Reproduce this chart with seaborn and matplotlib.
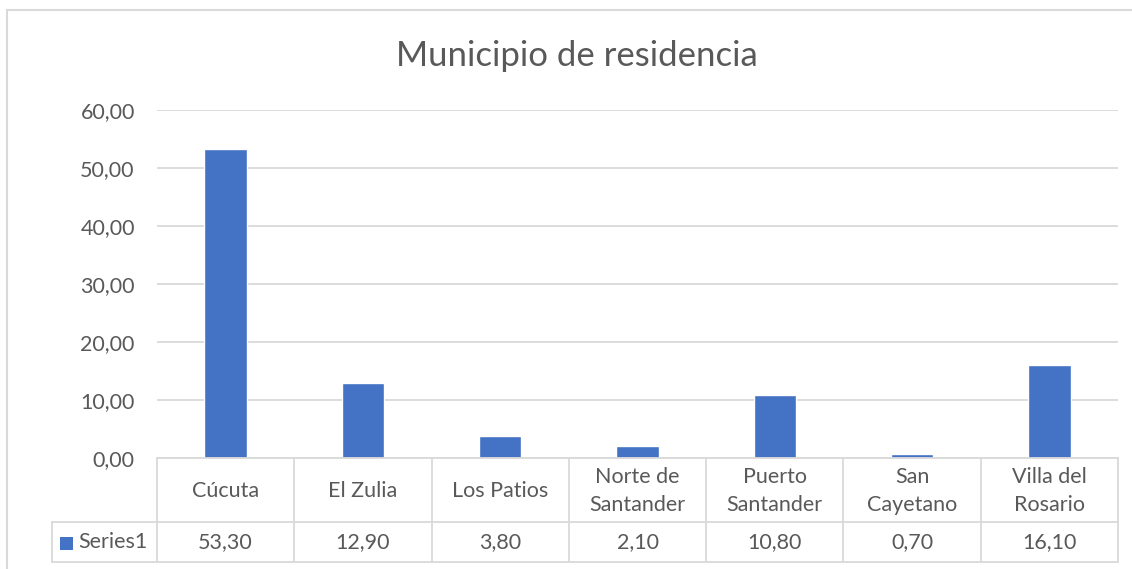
import numpy as np
import pandas as pd
import matplotlib
matplotlib.use("Agg")
import matplotlib.pyplot as plt
from matplotlib.lines import Line2D
from matplotlib.patches import Rectangle
import seaborn as sns

categories = ["Cúcuta", "El Zulia", "Los Patios", "Norte de\nSantander",
              "Puerto\nSantander", "San\nCayetano", "Villa del\nRosario"]
values = [53.30, 12.90, 3.80, 2.10, 10.80, 0.70, 16.10]
series_name = "Series1"
yticks = [0, 10, 20, 30, 40, 50, 60]

BLUE = "#4472C4"
TEXT = "#595959"
GRID = "#d9d9d9"
FS = 15.5

sns.set_style("white")
plt.rcParams["font.family"] = ["Lato", "DejaVu Sans"]

W, H = 1132, 569
fig = plt.figure(figsize=(W / 100, H / 100), dpi=100)

# plot area in pixel coords
x0, x1, y_top, y_zero = 157, 1118, 110, 458
row1, row2 = 522, 562
key_left = 52

def fx(px):
    return px / W

def fy(py):
    return 1 - py / H

ax = fig.add_axes([fx(x0), fy(y_zero), fx(x1 - x0), fy(y_top) - fy(y_zero)])
df = pd.DataFrame({"cat": categories, "val": values})
sns.barplot(data=df, x="cat", y="val", color=BLUE, width=0.31,
            saturation=1, ax=ax)
ax.set_xlim(-0.5, len(categories) - 0.5)
ax.set_ylim(0, 60)
ax.set_yticks(yticks)
ax.set_yticklabels([f"{v:.2f}".replace(".", ",") for v in yticks],
                   fontsize=FS, color=TEXT)
ax.tick_params(axis="y", length=0, pad=16)
ax.set_xticks([])
ax.set_xlabel("")
ax.set_ylabel("")
ax.grid(axis="y", color=GRID, lw=1.3)
ax.set_axisbelow(True)
for s in ax.spines.values():
    s.set_visible(False)

fig.text(0.51, fy(56), "Municipio de residencia", ha="center", va="center",
         fontsize=25, color=TEXT)

# ── data table ──────────────────────────────────────────────────────────
def hline(y, xa, xb):
    fig.add_artist(Line2D([fx(xa), fx(xb)], [fy(y), fy(y)], color=GRID, lw=1.3))

def vline(x, ya, yb):
    fig.add_artist(Line2D([fx(x), fx(x)], [fy(ya), fy(yb)], color=GRID, lw=1.3))

n = len(categories)
cw = (x1 - x0) / n
hline(y_zero, x0, x1)
hline(row1, key_left, x1)
hline(row2, key_left, x1)
vline(key_left, row1, row2)
for k in range(n + 1):
    vline(x0 + k * cw, y_zero, row2)

for k, (c, v) in enumerate(zip(categories, values)):
    cx = fx(x0 + (k + 0.5) * cw)
    fig.text(cx, fy((y_zero + row1) / 2 + 1), c, ha="center", va="center",
             fontsize=FS, color=TEXT, linespacing=1.5)
    fig.text(cx, fy((row1 + row2) / 2), f"{v:.2f}".replace(".", ","),
             ha="center", va="center", fontsize=FS, color=TEXT)

fig.add_artist(Rectangle((fx(60), fy(550)), fx(13), fy(537) - fy(550),
                         color=BLUE, lw=0))
fig.text(fx(78), fy((row1 + row2) / 2), series_name, ha="left", va="center",
         fontsize=FS, color=TEXT)

# chart frame
fig.add_artist(Line2D([fx(7), 1], [fy(10), fy(10)], color=GRID, lw=1.5))
fig.add_artist(Line2D([fx(7), fx(7)], [fy(10), 0], color=GRID, lw=1.5))

fig.savefig("out.png", dpi=100)
